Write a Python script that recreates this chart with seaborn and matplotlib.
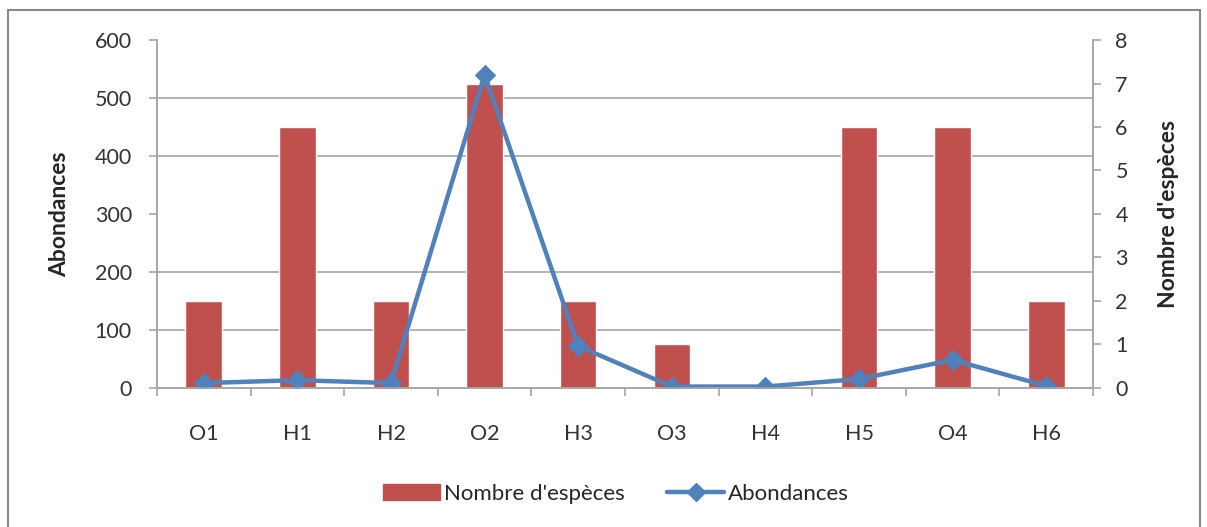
import numpy as np
import pandas as pd
import seaborn as sns
import matplotlib.pyplot as plt
from matplotlib.patches import Rectangle, Patch
from matplotlib.lines import Line2D

# data
stations = ["O1", "H1", "H2", "O2", "H3", "O3", "H4", "H5", "O4", "H6"]
nb_especes = [2, 6, 2, 7, 2, 1, 0, 6, 6, 2]
abondances = [8, 13, 8, 540, 72, 2, 2, 15, 48, 3]

left_ticks = list(range(0, 601, 100))
right_ticks = list(range(0, 9))

bar_color = "#C0504D"
line_color = "#4F81BD"
grid_color = "#A6A6A6"

sns.set_theme(style="white")
plt.rcParams['font.family'] = ['Lato', 'DejaVu Sans']

df = pd.DataFrame({"station": stations, "nb": nb_especes, "ab": abondances})

fig = plt.figure(figsize=(12.07, 5.27), dpi=100)
ax = fig.add_axes([0.130, 0.2643, 0.7756, 0.6597])
ax2 = ax.twinx()

# bars on right axis (Nombre d'espèces)
sns.barplot(data=df, x="station", y="nb", color=bar_color, width=0.39,
            saturation=1, ax=ax2, zorder=2)
# line on left axis (Abondances)
sns.lineplot(data=df, x="station", y="ab", color=line_color, lw=3.2,
             marker="D", markersize=10, markeredgecolor=line_color, ax=ax,
             sort=False)

ax.set_zorder(ax2.get_zorder() + 1)
ax.patch.set_visible(False)

ax.set_ylim(0, 600)
ax2.set_ylim(0, 8)
ax.set_xlim(-0.5, len(stations) - 0.5)
ax.set_yticks(left_ticks)
ax2.set_yticks(right_ticks)

# gridlines matching the left axis, drawn under the bars
ax2.set_yticks([v / 75 for v in left_ticks], minor=True)
ax2.yaxis.grid(True, which="minor", color=grid_color, lw=1.2)
ax2.yaxis.grid(False, which="major")
ax2.set_axisbelow(True)
ax2.tick_params(axis="y", which="minor", length=0)
ax.grid(False)

ax.set_xticks(range(len(stations)))
ax.set_xticklabels(stations)
ax.set_xticks(np.arange(-0.5, len(stations), 1), minor=True)
ax.tick_params(axis="x", which="major", length=0, pad=26, labelsize=15.5, colors="#333333")
ax.tick_params(axis="x", which="minor", length=6, width=1.2, color=grid_color, direction="out", bottom=True)
ax.tick_params(axis="y", length=6, width=1.2, color=grid_color, direction="out", pad=12,
               labelsize=15.5, colors="#333333", left=True)
ax2.tick_params(axis="y", which="major", length=6, width=1.2, color=grid_color, direction="out",
                pad=10, labelsize=15.5, colors="#333333", right=True)
ax2.set_xlabel("")

ax.set_xlabel("")
ax.set_ylabel("Abondances", fontsize=16.5, fontweight="bold", labelpad=18)
ax2.set_ylabel("Nombre d'espèces", fontsize=16.5, fontweight="bold", labelpad=22)

for a in (ax, ax2):
    a.spines["top"].set_visible(False)
    for s in ("left", "right", "bottom"):
        a.spines[s].set_color(grid_color)
        a.spines[s].set_linewidth(1.2)

handles = [Patch(facecolor=bar_color, edgecolor=bar_color),
           Line2D([], [], color=line_color, lw=3.2, marker="D", markersize=9)]
fig.legend(handles, ["Nombre d'espèces", "Abondances"], loc="center",
           bbox_to_anchor=(0.51, 0.063), ncol=2, frameon=False, fontsize=16,
           handlelength=2.6, columnspacing=1.9, handletextpad=0.15)

# outer chart border
fig.patches.append(Rectangle((8 / 1207, -0.01), 1192 / 1207, 1 - 10 / 527 + 0.01,
                             transform=fig.transFigure, fill=False,
                             edgecolor="#888888", lw=1.5))

plt.savefig("out.png", dpi=100)
